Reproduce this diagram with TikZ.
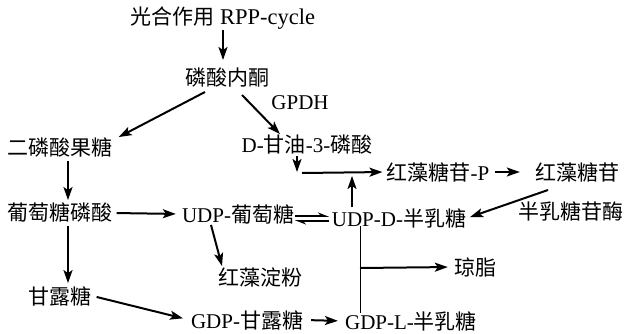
\documentclass[tikz,border=0pt]{standalone}
\usepackage{fontspec}
\setmainfont{Liberation Serif}
\newfontfamily\cjk{Noto Sans CJK SC}
\usetikzlibrary{arrows.meta}
\tikzset{
  txt/.style={inner sep=1pt,font=\fontsize{21}{24}\selectfont},
  arr/.style={-{Stealth[length=13pt,width=9pt,inset=3pt]},line width=2pt},
  harp/.style={-{Stealth[harpoon,length=9pt,width=7pt]},line width=2pt}
}
\begin{document}
\begin{tikzpicture}[x=1pt,y=-1pt]
        \useasboundingbox (0,0) rectangle (626,334);

        \node[txt] (rpp) at (223,18) {{\cjk 光合作用} \fontsize{22.5}{24}\selectfont RPP-cycle};
        \node[txt] (lsbt) at (227,78) {\cjk 磷酸内酮};
        \node[txt] (gpdh) at (300,103) {GPDH};
        \node[txt] (eflg) at (60,148) {\cjk 二磷酸果糖};
        \node[txt] (dgy) at (307,145) {D-{\cjk 甘油}-3-{\cjk 磷酸}};
        \node[txt] (hzp) at (438,172) {{\cjk 红藻糖苷}-P};
        \node[txt] (hzg) at (577,172) {\cjk 红藻糖苷};
        \node[txt] (brt) at (571,211) {\cjk 半乳糖苷酶};
        \node[txt] (ptts) at (60,213) {\cjk 葡萄糖磷酸};
        \node[txt] (udpg) at (238,214) {UDP-{\cjk 葡萄糖}};
        \node[txt] (udpd) at (399,218) {UDP-D-{\cjk 半乳糖}};
        \node[txt] (hzdf) at (260,277) {\cjk 红藻淀粉};
        \node[txt] (qz) at (475,267) {\cjk 琼脂};
        \node[txt] (gls) at (60,296) {\cjk 甘露糖};
        \node[txt] (gdpm) at (247,320) {GDP-{\cjk 甘露糖}};
        \node[txt] (gdpl) at (411,321) {GDP-L-{\cjk 半乳糖}};

        \coordinate (hl) at (302,173);
        \coordinate (up) at (352,176);
        \coordinate (vl) at (360,268);

        \draw[arr] (rpp.south) -- (223,60);
        \draw[arr] (205,92) -- ([xshift=5pt]eflg.north east);
        \draw[arr] (242,95) -- ([xshift=-27pt]dgy.north);
        \draw[arr] (297,156) -- (297,172);
        \draw[arr,shorten >=3pt] (hl) -- (hzp.west);
        \draw[arr] (up |- udpd.north) -- (up);
        \draw[arr,shorten <=4pt,shorten >=14pt] (hzp.east) -- (hzg.west);
        \draw[arr,shorten >=3pt] (548,190) -- (udpd.east);
        \draw[arr,shorten <=2pt,shorten >=2pt] (eflg.south -| 68,0) -- (ptts.north -| 68,0);
        \draw[arr,shorten <=3pt,shorten >=5pt] (ptts.east) -- (udpg.west);
        \draw[arr] ([xshift=-27pt]udpg.south) -- ([xshift=-38pt]hzdf.north);
        \draw[arr,shorten <=2pt,shorten >=2pt] (ptts.south -| 68,0) -- (gls.north -| 68,0);
        \draw[arr,shorten <=4pt,shorten >=7pt] (gls.east) -- (gdpm.west);
        \draw[arr,shorten <=7pt,shorten >=6pt] (gdpm.east) -- (gdpl.west);
        \draw[harp] (295,216) -- (329,216);
        \draw[harp] (329,221) -- (295,221);
        \draw[line width=1pt] ([yshift=3pt]udpd.south -| vl) -- ([yshift=-3pt]gdpl.north -| vl);
        \draw[arr,shorten >=5pt] (vl) -- (qz.west);
       \end{tikzpicture}
\end{document}
